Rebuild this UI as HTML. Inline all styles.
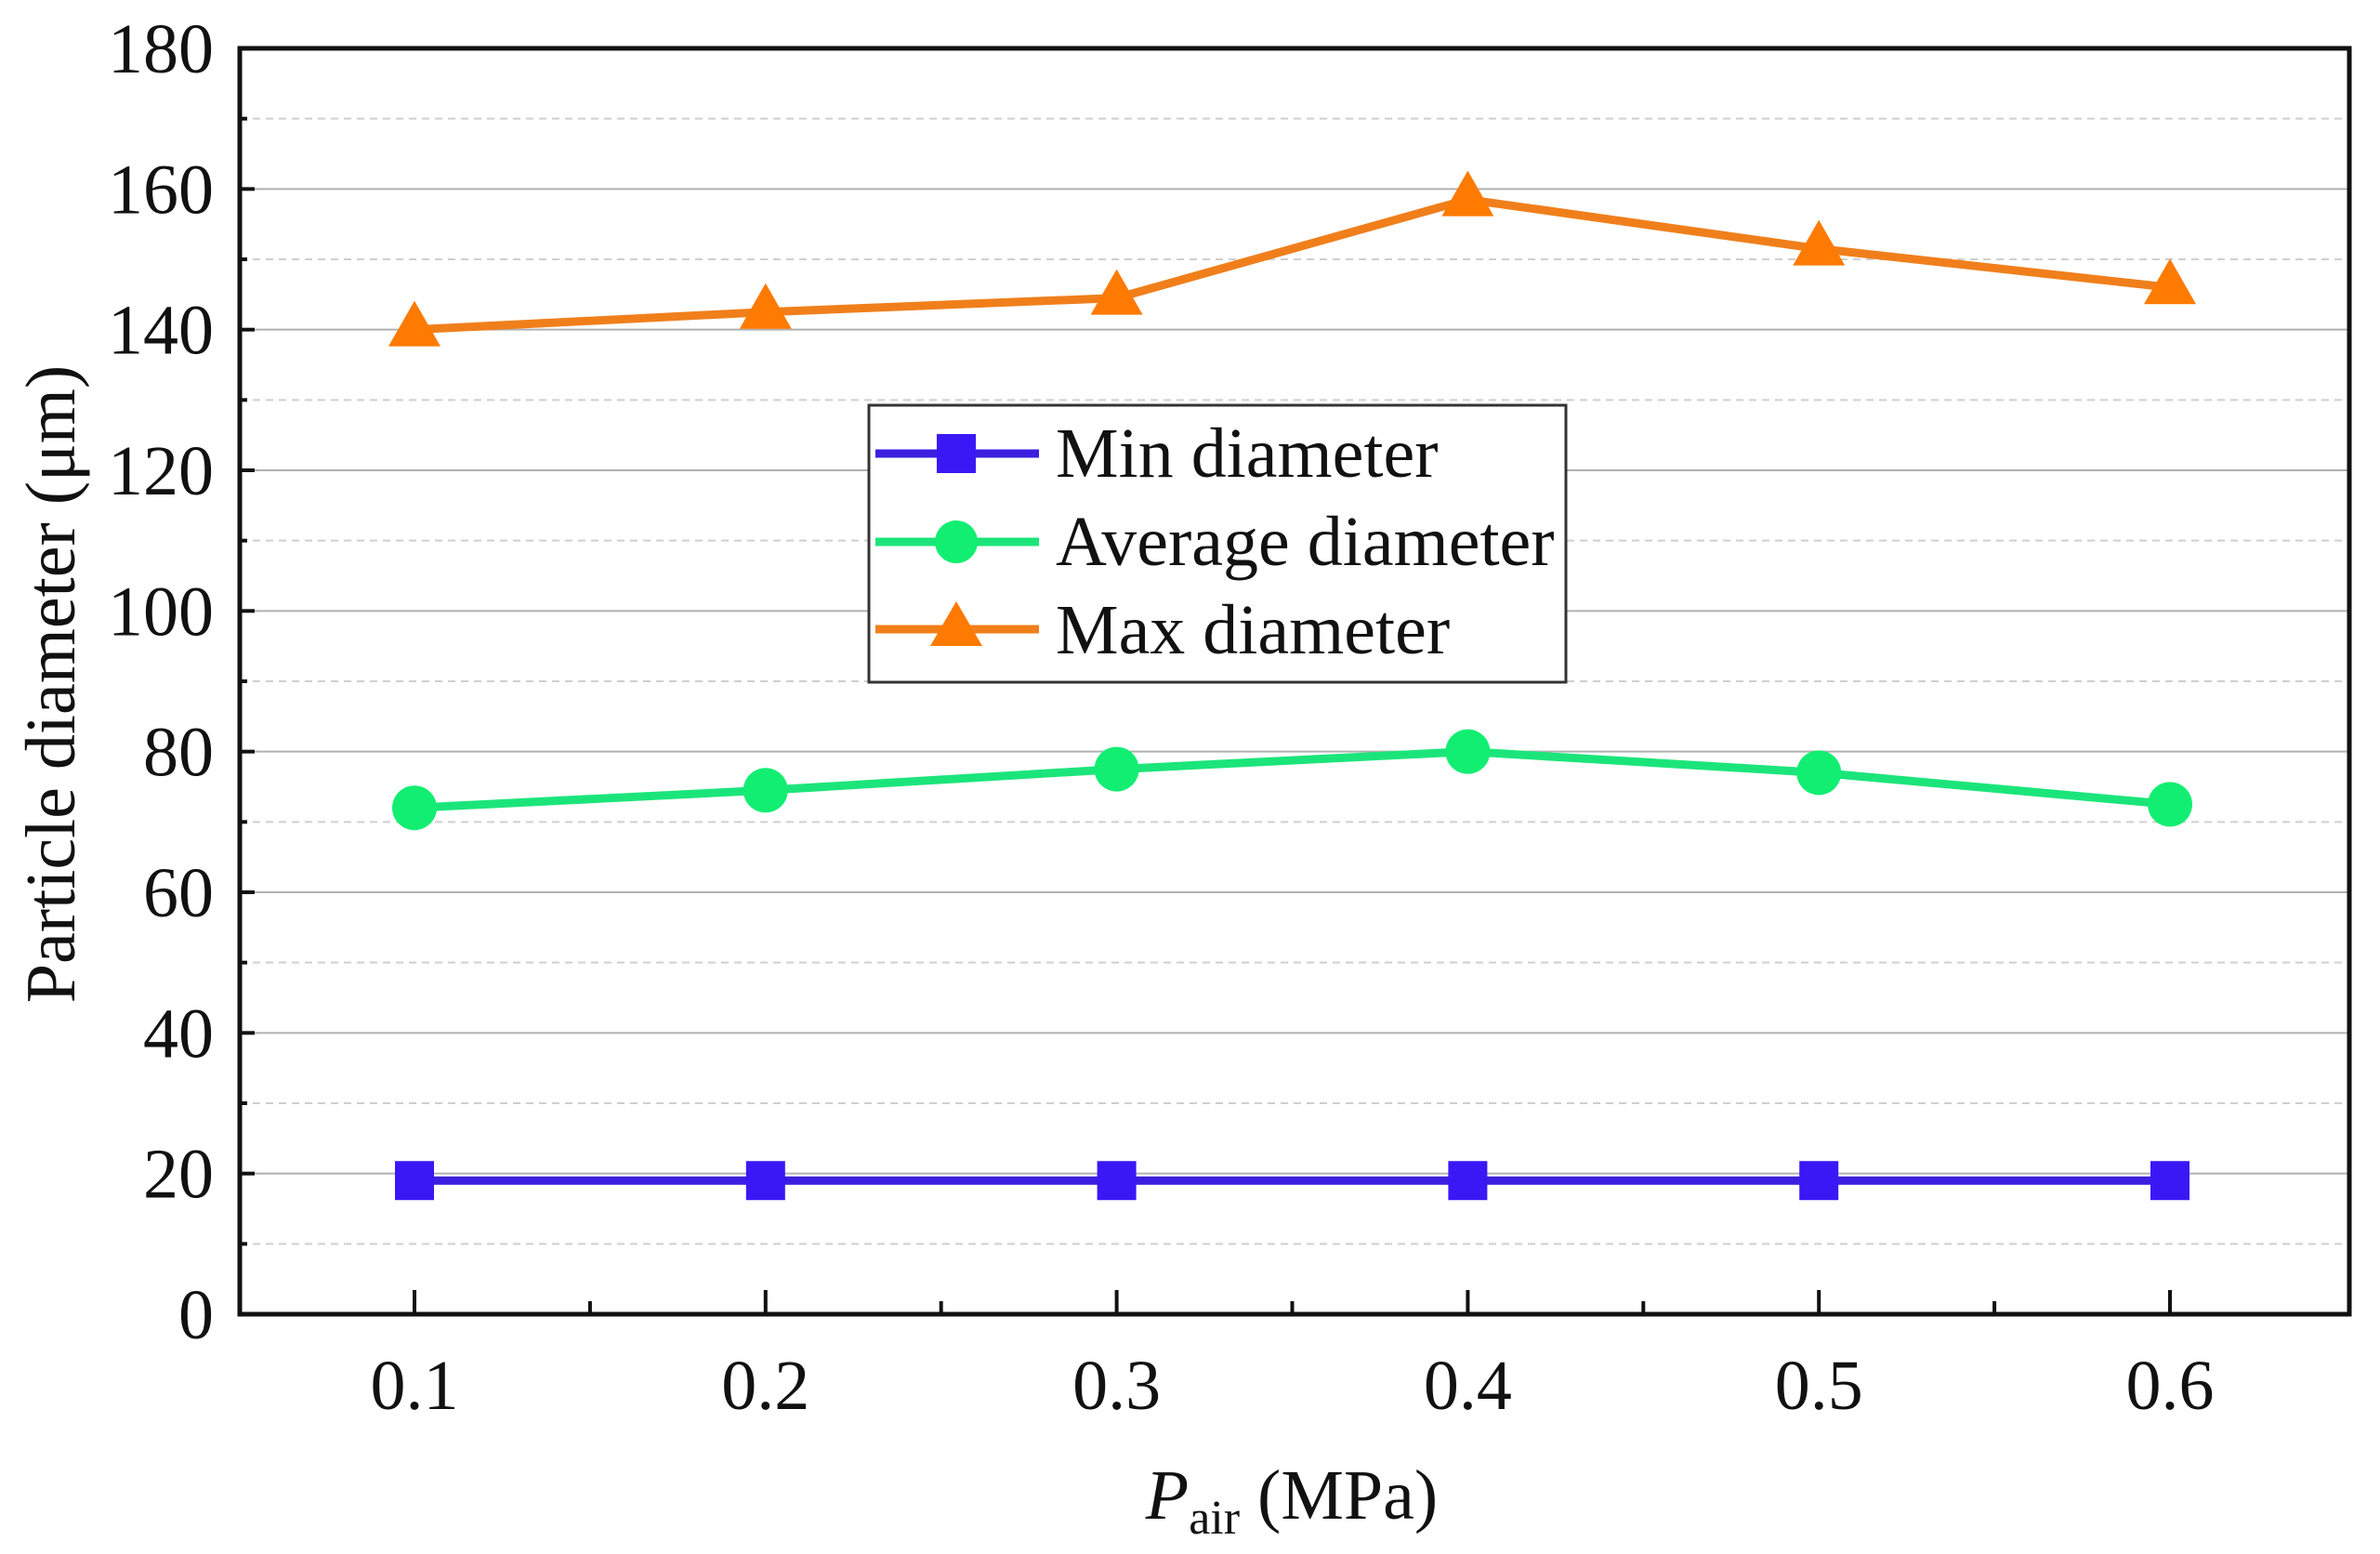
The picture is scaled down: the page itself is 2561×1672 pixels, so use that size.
<!DOCTYPE html>
<html><head><meta charset="utf-8"><style>
html,body{margin:0;padding:0;background:#fff;}
svg{display:block;font-family:"Liberation Serif",serif;}
</style></head><body>
<svg id="chart" width="2561" height="1672" viewBox="0 0 2561 1672" xmlns="http://www.w3.org/2000/svg">
<g id="grid"></g>
<g id="series"></g>
<g id="axes"></g>
<text transform="translate(80,736) rotate(-90)" text-anchor="middle" font-size="76" fill="#111">Particle diameter (μm)</text>
<text x="1390" y="1634" text-anchor="middle" font-size="76" fill="#111"><tspan font-style="italic">P</tspan><tspan font-size="52" dy="16">air</tspan><tspan dy="-16"> (MPa)</tspan></text>
<g>
<rect x="935" y="436" width="750" height="298" fill="#fff" stroke="#333" stroke-width="3"/>
<g>
<line x1="942" y1="488" x2="1118" y2="488" stroke="#3a1fe0" stroke-width="9"/>
<rect x="1008" y="467" width="42" height="42" fill="#3a18f5"/>
<text x="1136" y="513" font-size="76" fill="#111">Min diameter</text></g>
<g>
<line x1="942" y1="583" x2="1118" y2="583" stroke="#1be57a" stroke-width="9"/>
<circle cx="1029" cy="583" r="23" fill="#12ee72"/>
<text x="1136" y="608" font-size="76" fill="#111">Average diameter</text></g>
<g>
<line x1="942" y1="677" x2="1118" y2="677" stroke="#f07f1b" stroke-width="9"/>
<polygon points="1029,647 1057,695 1001,695" fill="#ff7a00"/>
<text x="1136" y="703" font-size="76" fill="#111">Max diameter</text></g>
</g>
</svg>
<script>
const categories = [0.1, 0.2, 0.3, 0.4, 0.5, 0.6];
const minValues = [19, 19, 19, 19, 19, 19];
const avgValues = [72, 74.5, 77.5, 80, 77, 72.5];
const maxValues = [140, 142.5, 144.5, 158.5, 151.5, 146];
const yTicks = [0, 20, 40, 60, 80, 100, 120, 140, 160, 180];
const xTickLabels = ["0.1", "0.2", "0.3", "0.4", "0.5", "0.6"];

const NS = "http://www.w3.org/2000/svg";
const L = 258, R = 2528, T = 52, B = 1414;
function xs(v){ return 446 + (v - 0.1) / 0.1 * 377.8; }
function ys(v){ return B - v / 180 * (B - T); }
function mk(tag, attrs, parent){ const e = document.createElementNS(NS, tag); for (const k in attrs) e.setAttribute(k, attrs[k]); parent.appendChild(e); return e; }

const grid = document.getElementById('grid');
const axes = document.getElementById('axes');
const series = document.getElementById('series');

for (let v = 10; v < 180; v += 10) {
  const major = v % 20 === 0;
  const gl = mk('line', {x1: L, x2: R, y1: ys(v), y2: ys(v), stroke: major ? '#b0b0b0' : '#cfcfcf', 'stroke-width': 2, 'stroke-dasharray': major ? 'none' : '8,6'}, grid);
  
  
}

const frame = mk('rect', {x: L, y: T, width: R - L, height: B - T, fill: 'none', stroke: '#111', 'stroke-width': 5}, axes);



yTicks.forEach(v => {
  const t = mk('line', {x1: L, x2: L + 16, y1: ys(v), y2: ys(v), stroke: '#111', 'stroke-width': 4}, axes);
  
  
  const tx = mk('text', {x: 230, y: ys(v) + 26, 'text-anchor': 'end', 'font-size': 76, fill: '#111'}, axes);
  tx.textContent = v;
  
  
});
for (let v = 10; v < 180; v += 20) {
  const t = mk('line', {x1: L, x2: L + 8, y1: ys(v), y2: ys(v), stroke: '#111', 'stroke-width': 4}, axes);
  
  
}
categories.forEach((c, i) => {
  const t = mk('line', {x1: xs(c), x2: xs(c), y1: B, y2: B - 26, stroke: '#111', 'stroke-width': 4}, axes);
  
  
  const tx = mk('text', {x: xs(c), y: 1516, 'text-anchor': 'middle', 'font-size': 76, fill: '#111'}, axes);
  tx.textContent = xTickLabels[i];
  
  
  if (i < categories.length - 1) {
    const m = mk('line', {x1: xs(c + 0.05), x2: xs(c + 0.05), y1: B, y2: B - 14, stroke: '#111', 'stroke-width': 4}, axes);
    
    
  }
});

function drawSeries(vals, color, mcolor, shape, name){
  const pts = categories.map((c, i) => xs(c) + ',' + ys(vals[i])).join(' ');
  const pl = mk('polyline', {points: pts, fill: 'none', stroke: color, 'stroke-width': 9, 'stroke-linejoin': 'round'}, series);
  
  
  categories.forEach((c, i) => {
    const x = xs(c), y = ys(vals[i]);
    let m;
    if (shape === 'square') m = mk('rect', {x: x - 21, y: y - 21, width: 42, height: 42, fill: mcolor}, series);
    else if (shape === 'circle') m = mk('circle', {cx: x, cy: y, r: 24, fill: mcolor}, series);
    else m = mk('polygon', {points: `${x},${y - 31} ${x + 28},${y + 18} ${x - 28},${y + 18}`, fill: mcolor}, series);
    
    
  });
}
drawSeries(minValues, '#3a1fe0', '#3a18f5', 'square', 'min-diameter');
drawSeries(avgValues, '#1be57a', '#12ee72', 'circle', 'average-diameter');
drawSeries(maxValues, '#f07f1b', '#ff7a00', 'triangle', 'max-diameter');
</script>
</body></html>
